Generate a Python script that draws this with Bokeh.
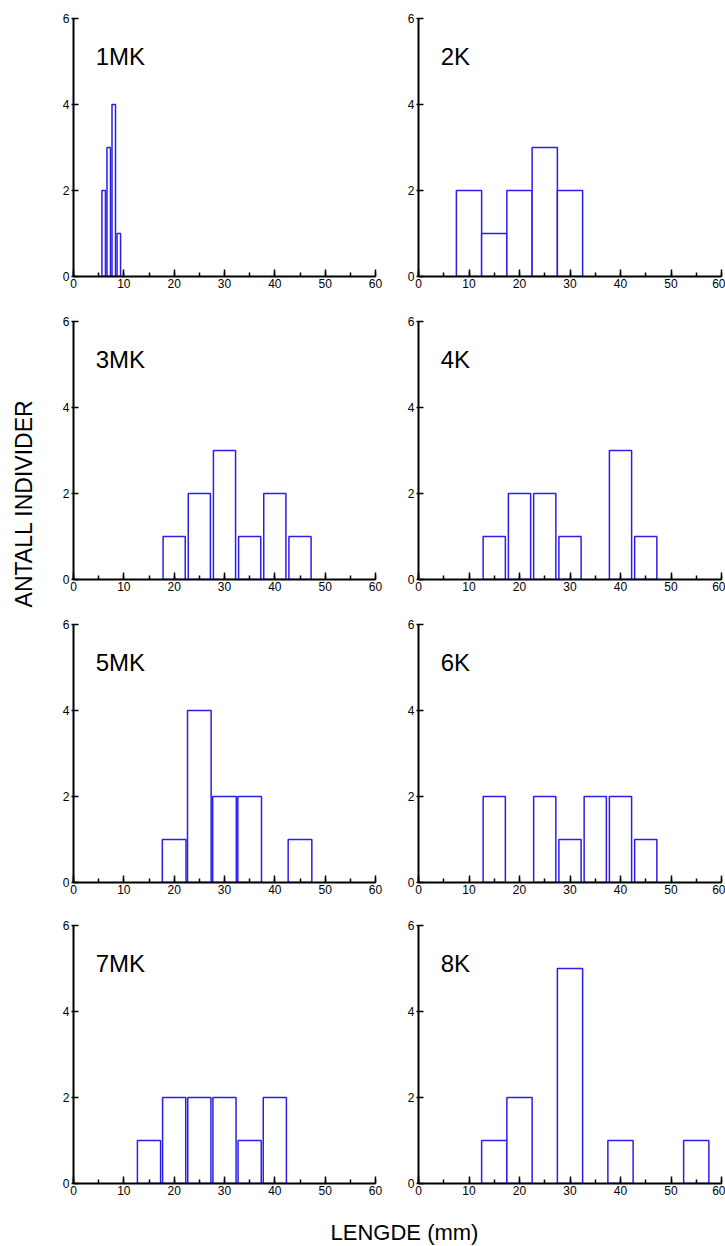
import math
from bokeh.plotting import figure
from bokeh.models import Range1d, SingleIntervalTicker, Label
from bokeh.layouts import row, column
from bokeh.embed import file_html
from bokeh.resources import INLINE

# ---- data ----
panel_names = ["1MK", "2K", "3MK", "4K", "5MK", "6K", "7MK", "8K"]

len_1MK = [6, 7, 8, 9]
cnt_1MK = [2, 3, 4, 1]
len_2K = [10, 15, 20, 25, 30]
cnt_2K = [2, 1, 2, 3, 2]
len_3MK = [20, 25, 30, 35, 40, 45]
cnt_3MK = [1, 2, 3, 1, 2, 1]
len_4K = [15, 20, 25, 30, 40, 45]
cnt_4K = [1, 2, 2, 1, 3, 1]
len_5MK = [20, 25, 30, 35, 45]
cnt_5MK = [1, 4, 2, 2, 1]
len_6K = [15, 25, 30, 35, 40, 45]
cnt_6K = [2, 2, 1, 2, 2, 1]
len_7MK = [15, 20, 25, 30, 35, 40]
cnt_7MK = [1, 2, 2, 2, 1, 2]
len_8K = [15, 20, 30, 40, 55]
cnt_8K = [1, 2, 5, 1, 1]

x_title = "LENGDE (mm)"
y_title = "ANTALL INDIVIDER"

lengths = [len_1MK, len_2K, len_3MK, len_4K, len_5MK, len_6K, len_7MK, len_8K]
counts = [cnt_1MK, cnt_2K, cnt_3MK, cnt_4K, cnt_5MK, cnt_6K, cnt_7MK, cnt_8K]

# ---- style ----
bar_w = [0.7, 5.0, 4.4, 4.4, 4.7, 4.4, 4.6, 5.0]
BLUE = "#2B1EEB"
FONT = "Liberation Sans"

col_geom = [  # width, border left, border right
    (350, 33, 15),
    (335, 28, 4),
]
row_geom = [  # height, border top, border bottom
    (303, 18, 27),
    (303, 18, 27),
    (301, 18, 25),
    (301, 18, 25),
]


def make_panel(i):
    r, c = divmod(i, 2)
    w, bl, br = col_geom[c]
    h, bt, bb = row_geom[r]
    p = figure(width=w, height=h, x_range=Range1d(0, 60), y_range=Range1d(0, 6),
               output_backend="svg", toolbar_location=None,
               min_border_left=bl, min_border_right=br,
               min_border_top=bt, min_border_bottom=bb)
    p.outline_line_color = None
    p.grid.visible = False
    p.vbar(x=lengths[i], top=counts[i], bottom=0, width=bar_w[i],
           fill_color="white", line_color=BLUE, line_width=1.5)

    xa = p.xaxis[0]
    xa.ticker = SingleIntervalTicker(interval=10, num_minor_ticks=2)
    xa.major_tick_in = 7
    xa.major_tick_out = 0
    xa.minor_tick_in = 4
    xa.minor_tick_out = 0
    xa.axis_line_width = 2
    xa.major_tick_line_width = 1.5
    xa.minor_tick_line_width = 1.5
    xa.major_label_text_font = FONT
    xa.major_label_text_font_size = "12px"
    xa.major_label_standoff = 2
    xa.major_label_text_color = "black"

    ya = p.yaxis[0]
    ya.ticker = SingleIntervalTicker(interval=2, num_minor_ticks=0)
    ya.major_tick_in = 5
    ya.major_tick_out = 2
    ya.minor_tick_in = 0
    ya.minor_tick_out = 0
    ya.axis_line_width = 2
    ya.major_tick_line_width = 1.5
    ya.major_label_text_font = FONT
    ya.major_label_text_font_size = "12px"
    ya.major_label_standoff = 2
    ya.major_label_text_color = "black"

    p.add_layout(Label(x=4.4, y=5.12, text=panel_names[i], text_font=FONT,
                       text_font_size="24px", text_align="left",
                       text_baseline="alphabetic", text_color="black"))
    return p


panels = [make_panel(i) for i in range(8)]
grid_h = sum(g[0] for g in row_geom)

# left title strip
ylab = figure(width=40, height=grid_h, x_range=Range1d(0, 40), y_range=Range1d(0, grid_h),
              output_backend="svg", toolbar_location=None,
              x_axis_type=None, y_axis_type=None,
              min_border_left=0, min_border_right=0, min_border_top=0, min_border_bottom=0)
ylab.outline_line_color = None
ylab.add_layout(Label(x=23, y=grid_h - 503, text=y_title, angle=math.pi / 2,
                      text_font=FONT, text_font_size="23px", text_align="center",
                      text_baseline="middle", text_color="black"))

# bottom title strip
xlab_h = 1246 - grid_h
xlab = figure(width=725, height=xlab_h, x_range=Range1d(0, 725), y_range=Range1d(0, xlab_h),
              output_backend="svg", toolbar_location=None,
              x_axis_type=None, y_axis_type=None,
              min_border_left=0, min_border_right=0, min_border_top=0, min_border_bottom=0)
xlab.outline_line_color = None
xlab.add_layout(Label(x=404, y=xlab_h - (1232 - grid_h), text=x_title,
                      text_font=FONT, text_font_size="22px", text_align="center",
                      text_baseline="alphabetic", text_color="black"))

grid = column(*[row(panels[2 * r], panels[2 * r + 1]) for r in range(4)])
layout = column(row(ylab, grid), xlab)

with open("out.html", "w") as f:
    f.write(file_html(layout, INLINE))
